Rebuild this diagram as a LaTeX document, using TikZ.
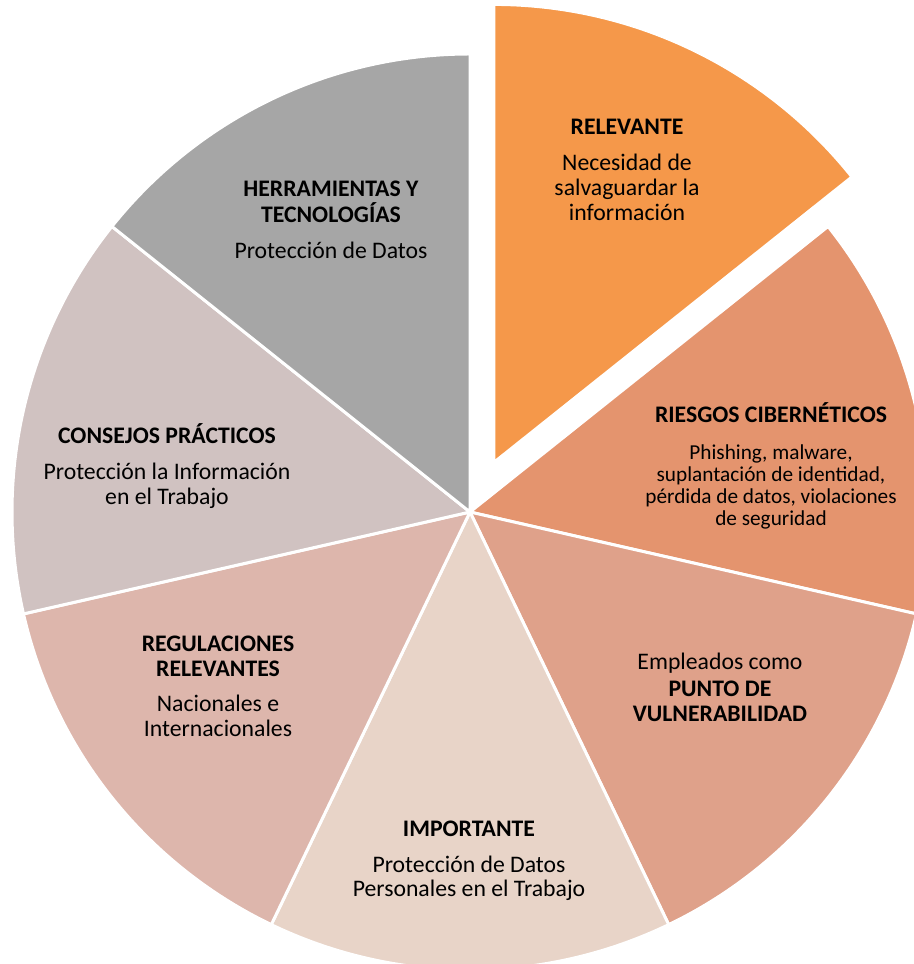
\documentclass[tikz,border=0pt]{standalone}
\usepackage{fontspec}
\setmainfont{Carlito}
\definecolor{relevante}{HTML}{F5984A}
\definecolor{riesgos}{HTML}{E4946E}
\definecolor{empleados}{HTML}{DFA18A}
\definecolor{importante}{HTML}{E8D4C8}
\definecolor{regulaciones}{HTML}{DDB6AC}
\definecolor{consejos}{HTML}{D0C2C1}
\definecolor{herramientas}{HTML}{A6A6A6}
\begin{document}
\begin{tikzpicture}[
    slice/.style={draw=white, line width=1.7pt, line join=round},
    lbl/.style={align=center, inner sep=0pt, font=\fontsize{13.5}{14.2}\selectfont},
    lblsmall/.style={align=center, inner sep=0pt, font=\fontsize{12.1}{12.5}\selectfont}]
    \useasboundingbox (-9.4,-9.04) rectangle (8.88,10.24);
    % the pie, orange piece pulled out
    \path[slice, fill=relevante, shift={(64.29:1.1)}] (0,0) -- (90:9.16) arc[start angle=90, end angle=38.57, radius=9.16] -- cycle;
    \foreach \col [count=\i] in {riesgos,empleados,importante,regulaciones,consejos,herramientas}
        \path[slice, fill=\col] (0,0) -- ({90-\i*360/7}:9.16) arc[start angle={90-\i*360/7}, end angle={90-(\i+1)*360/7}, radius=9.16] -- cycle;
    % labels
    \node[lbl] (relevante) at (3.14,6.84) {\textbf{RELEVANTE}\\[6pt] Necesidad de\\ salvaguardar la\\ información};
    \node[lblsmall] (riesgos) at (6.02,0.92) {{\fontsize{13.5}{12.5}\selectfont\bfseries RIESGOS CIBERNÉTICOS}\\[8.5pt] Phishing, malware,\\ suplantación de identidad,\\ pérdida de datos, violaciones\\ de seguridad};
    \node[lbl] (empleados) at (5.0,-3.51) {Empleados como\\[1pt] \textbf{PUNTO DE}\\ \textbf{VULNERABILIDAD}};
    \node[lbl] (importante) at (-0.02,-6.98) {\textbf{IMPORTANTE}\\[6pt] Protección de Datos\\ Personales en el Trabajo};
    \node[lbl] (regulaciones) at (-5.04,-3.49) {\textbf{REGULACIONES}\\ \textbf{RELEVANTES}\\[6pt] Nacionales e\\ Internacionales};
    \node[lbl] (consejos) at (-6.06,0.92) {\textbf{CONSEJOS PRÁCTICOS}\\[6pt] Protección la Información\\ en el Trabajo};
    \node[lbl] (herramientas) at (-2.78,5.85) {\textbf{HERRAMIENTAS Y}\\[1pt] \textbf{TECNOLOGÍAS}\\[6pt] Protección de Datos};
\end{tikzpicture}
\end{document}
